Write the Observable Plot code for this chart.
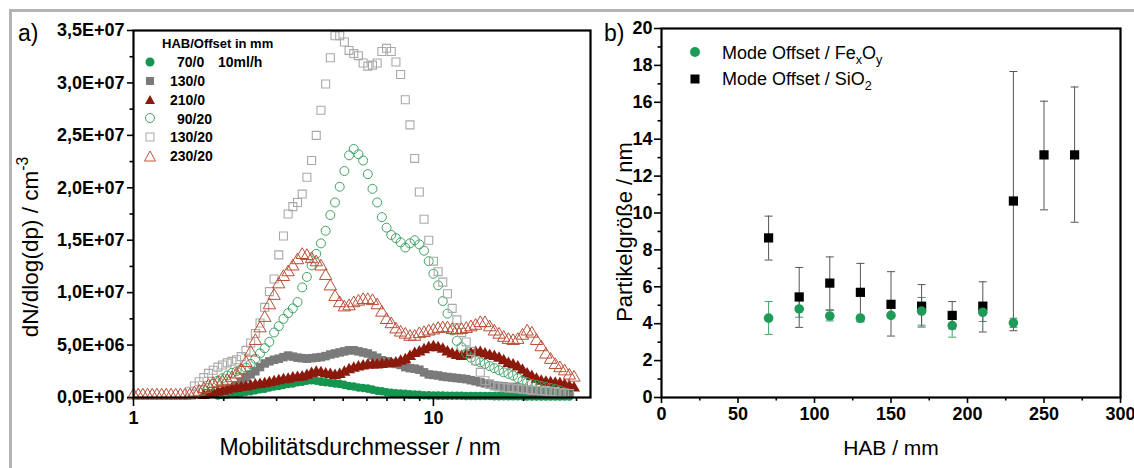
<!DOCTYPE html>
<html><head><meta charset="utf-8">
<script src="https://cdn.jsdelivr.net/npm/d3@7"></script>
<script src="https://cdn.jsdelivr.net/npm/@observablehq/plot@0.6"></script>
<style>
body{margin:0;background:#fff;font-family:"Liberation Sans",Arial,sans-serif;}
#fig{position:relative;width:1134px;height:468px;overflow:hidden;background:#fff;}
.frame{position:absolute;left:9px;top:9px;width:1200px;height:600px;border-top:3px solid #b3b3b3;border-left:3px solid #b3b3b3;}
.t{position:absolute;white-space:nowrap;line-height:1;color:#000;}
.c{transform:translate(-50%,-50%);}
.r{transform:translate(-50%,-50%) rotate(-90deg);}
.lg{position:absolute;white-space:nowrap;line-height:1;font-weight:bold;font-size:14px;transform:translateY(-50%);}
.lb{position:absolute;white-space:nowrap;line-height:1;font-size:18px;transform:translateY(-50%);}
sub,sup{font-size:70%;line-height:0;}
#pa,#pb{position:absolute;top:0;}
</style></head>
<body>
<div id="fig">
  <div class="frame"></div>
  <div id="pa" style="left:0"></div>
  <div id="pb" style="left:590px"></div>
  <div class="t" style="left:18px;top:22px;font-size:23px;">a)</div>
  <div class="t" style="left:604px;top:22px;font-size:23px;">b)</div>
  <div class="t c" style="left:360px;top:447px;font-size:23px;">Mobilitätsdurchmesser / nm</div>
  <div class="t c" style="left:891px;top:447px;font-size:21px;">HAB / mm</div>
  <div class="t r" style="left:31px;top:247px;font-size:22.5px;">dN/dlog(dp) / cm<sup style="vertical-align:0.6em">-3</sup></div>
  <div class="t r" style="left:625px;top:232px;font-size:22px;">Partikelgröße / nm</div>
  <div class="lg" style="left:162px;top:43px;font-size:13px;">HAB/Offset in mm</div>
  <div class="lg" style="left:177px;top:62px;">70/0</div>
  <div class="lg" style="left:218px;top:62px;">10ml/h</div>
  <div class="lg" style="left:170px;top:81px;">130/0</div>
  <div class="lg" style="left:170px;top:100px;">210/0</div>
  <div class="lg" style="left:177px;top:119px;">90/20</div>
  <div class="lg" style="left:170px;top:137px;">130/20</div>
  <div class="lg" style="left:170px;top:156px;">230/20</div>
  <div class="lb" style="left:722px;top:53px;">Mode Offset / Fe<sub>x</sub>O<sub>y</sub></div>
  <div class="lb" style="left:722px;top:79px;">Mode Offset / SiO<sub>2</sub></div>
  <svg width="1134" height="468" style="position:absolute;left:0;top:0;pointer-events:none">
    <circle cx="150" cy="62" r="4.5" fill="#149650"/>
    <rect x="146" y="77" width="8" height="8" fill="#7a7a7a"/>
    <path d="M150,95 L155,104 L145,104 Z" fill="#8c1a0c"/>
    <circle cx="150" cy="118" r="4.5" fill="none" stroke="#3fa366" stroke-width="1"/>
    <rect x="146" y="133" width="8" height="8" fill="none" stroke="#a9a9a9" stroke-width="1"/>
    <path d="M150,151 L155.5,161 L144.5,161 Z" fill="none" stroke="#c0553a" stroke-width="1"/>
    <circle cx="695" cy="52" r="5" fill="#1d9b57"/>
    <rect x="690.5" y="74.5" width="9" height="9" fill="#000"/>
  </svg>
</div>
<script>
// ---------- Panel a data (values in units of 1E+06 cm^-3) ----------
const diam = [1, 1.0366, 1.0746, 1.1140, 1.1548, 1.1971, 1.2409, 1.2864, 1.3335, 1.3823,
  1.4330, 1.4855, 1.5399, 1.5963, 1.6548, 1.7154, 1.7783, 1.8434, 1.9110, 1.9810,
  2.0535, 2.1287, 2.2067, 2.2875, 2.3714, 2.4583, 2.5483, 2.6416, 2.7384, 2.8387,
  2.9427, 3.0505, 3.1623, 3.2781, 3.3982, 3.5227, 3.6517, 3.7855, 3.9242, 4.0679,
  4.2170, 4.3715, 4.5316, 4.6976, 4.8697, 5.0481, 5.2330, 5.4247, 5.6234, 5.8294,
  6.0430, 6.2643, 6.4938, 6.7317, 6.9783, 7.2339, 7.4989, 7.7736, 8.0584, 8.3536,
  8.6596, 8.9768, 9.3057, 9.6466, 10, 10.366, 10.746, 11.140, 11.548, 11.971,
  12.409, 12.864, 13.335, 13.823, 14.330, 14.855, 15.399, 15.963, 16.548, 17.154,
  17.783, 18.434, 19.110, 19.810, 20.535, 21.287, 22.067, 22.875, 23.714, 24.583,
  25.483, 26.416, 27.384, 28.387, 29.427];
const _ = null;
const s70_0 = [_,_,_,_,_,_,_,_,_,_,
  _,_,_,_,_,_,_,_,0.2,0.25,
  0.3,0.35,0.4,0.45,0.55,0.6,0.7,0.8,0.85,0.95,
  1.05,1.1,1.2,1.3,1.35,1.45,1.5,1.6,1.65,1.6,
  1.5,1.45,1.4,1.35,1.3,1.2,1.1,1.05,0.95,0.9,
  0.85,0.75,0.65,0.6,0.5,0.45,0.4,0.38,0.35,0.3,
  0.28,0.25,0.22,0.2,0.19,0.18,0.18,0.17,0.17,0.16,
  0.16,0.15,0.15,0.15,0.14,0.14,0.14,0.13,0.13,0.13,
  0.12,0.12,0.12,0.12,0.11,0.11,0.11,0.11,0.1,0.1,
  0.1,0.1,0.1,0.1,_];
const s130_0 = [_,_,_,_,_,_,_,_,_,_,
  _,_,_,_,_,_,_,_,_,0.5,
  0.7,0.9,1.15,1.5,1.9,2.2,2.5,2.9,3.25,3.45,
  3.6,3.7,3.85,4.0,3.9,3.8,3.75,3.7,3.75,3.8,
  3.85,3.95,4.1,4.2,4.3,4.4,4.5,4.5,4.4,4.3,
  4.2,4.0,3.8,3.55,3.45,3.3,3.2,3.1,2.9,2.8,
  2.75,2.65,2.4,2.2,2.15,2.1,2.0,1.95,1.9,1.85,
  1.8,1.75,1.65,1.55,1.45,1.35,1.25,1.15,1.1,1.05,
  1.0,1.0,0.95,0.85,0.75,0.68,0.62,0.57,0.52,0.5,
  0.47,0.44,0.41,0.38,_];
const s210_0 = [_,_,_,_,_,_,_,_,_,_,
  _,_,_,_,_,0.2,0.3,0.4,0.5,0.6,
  0.7,0.8,0.85,0.95,1.0,1.1,1.2,1.25,1.3,1.4,
  1.5,1.6,1.7,1.75,1.85,1.9,1.95,2.1,2.3,2.4,
  2.35,2.25,2.2,2.1,2.2,2.4,2.65,2.8,2.9,3.0,
  3.1,3.1,3.1,3.15,3.2,3.25,3.3,3.45,3.6,3.9,
  4.2,4.35,4.55,4.75,4.85,4.75,4.6,4.35,4.15,4.0,
  3.9,4.05,4.2,4.3,4.3,4.15,4.0,3.9,3.75,3.5,
  3.25,3.1,2.9,2.6,2.25,2.0,1.75,1.55,1.45,1.4,
  1.35,1.3,1.2,1.05,0.9];
const s90_20 = [_,_,_,_,_,_,_,_,_,_,
  _,_,_,_,_,0.7,0.9,1.3,1.6,1.85,
  2.1,2.35,2.5,2.7,2.85,3.2,3.7,4.2,4.7,5.3,
  6.2,6.8,7.5,8.05,8.5,9.1,10.5,11.5,12.6,13.7,
  14.7,15.9,17.4,18.6,20.1,21.6,23.1,23.7,23.2,22.6,
  21.3,19.9,18.6,17.2,16.2,15.5,15.2,14.8,14.3,14.7,
  15.0,14.6,14.0,13.0,11.8,10.7,9.2,8.0,6.4,5.4,
  4.8,4.2,3.8,3.5,3.35,3.2,3.0,2.8,2.6,2.4,
  2.25,2.1,1.85,1.6,1.45,1.3,1.2,1.1,1.0,0.9,
  0.8,0.67,0.5,0.3,_];
const s130_20 = [_,_,_,_,_,_,_,_,_,_,
  _,_,0.6,1.1,1.5,1.9,2.3,2.6,2.9,3.1,
  3.3,3.45,3.6,3.9,4.5,5.2,6.1,7.1,8.6,10.1,
  11.3,13.6,15.4,17.5,18.2,18.6,19.4,21.0,22.6,25.0,
  27.4,29.9,32.4,34.5,34.5,33.9,33.1,32.8,32.6,31.9,
  31.6,31.7,31.9,33.0,33.3,33.0,32.0,30.8,28.4,26.0,
  22.8,19.6,17.0,15.0,13.0,12.0,11.0,9.9,8.5,7.4,
  6.2,5.3,4.4,3.5,2.4,1.6,1.3,1.1,1.0,0.95,
  0.92,0.88,0.85,0.8,0.75,0.7,0.67,0.64,0.6,0.57,
  0.52,0.48,0.42,0.38,_];
const s230_20 = [0.2,0.2,0.2,0.2,0.2,0.2,0.2,0.2,0.2,0.2,
  0.2,0.2,0.2,0.4,0.55,0.8,1.1,1.3,1.4,1.5,
  1.6,1.85,2.2,2.6,3.3,4.3,5.4,6.6,7.6,8.8,
  9.7,10.8,11.5,11.95,12.5,13.1,13.6,13.5,13.2,12.9,
  12.5,11.6,10.6,9.6,9.0,8.6,8.7,9.0,9.15,9.3,
  9.3,9.2,8.8,8.1,7.4,7.0,6.5,6.2,6.0,5.8,
  5.8,6.05,6.15,6.3,6.4,6.55,6.6,6.6,6.45,6.4,
  6.45,6.55,6.7,6.85,7.1,7.1,6.7,6.3,6.0,5.7,
  5.5,5.4,5.5,5.9,6.3,6.1,5.4,4.8,4.1,3.6,
  3.1,2.8,2.5,2.1,1.9];
const yTicksA = [0, 5, 10, 15, 20, 25, 30, 35];
const yMinorA = [2.5, 7.5, 12.5, 17.5, 22.5, 27.5, 32.5];
const xTicksA = [1, 10];
const xMinorA = [2, 3, 4, 5, 6, 7, 8, 9, 20, 30];

// ---------- Panel b data ----------
const hab = [70, 90, 110, 130, 150, 170, 190, 210, 230, 250, 270];
const sio2 = [8.65, 5.45, 6.2, 5.7, 5.05, 4.95, 4.45, 4.95, 10.65, 13.15, 13.15];
const sio2Lo = [7.45, 3.8, 4.75, 4.1, 3.33, 3.82, 3.72, 3.55, 3.62, 10.17, 9.5];
const sio2Hi = [9.83, 7.05, 7.62, 7.27, 6.82, 6.12, 5.2, 6.27, 17.67, 16.06, 16.83];
const habFe = [70, 90, 110, 130, 150, 170, 190, 210, 230];
const fe = [4.3, 4.8, 4.42, 4.3, 4.45, 4.68, 3.9, 4.62, 4.05];
const feLo = [3.42, 4.35, 4.15, 4.15, 4.35, 3.92, 3.27, 4.12, 3.8];
const feHi = [5.2, 5.25, 4.72, 4.45, 4.55, 5.42, 4.5, 5.1, 4.3];
const yTicksB = [0, 2, 4, 6, 8, 10, 12, 14, 16, 18, 20];
const yMinorB = [1, 3, 5, 7, 9, 11, 13, 15, 17, 19];
const xTicksB = [0, 50, 100, 150, 200, 250, 300];
const xMinorB = [25, 75, 125, 175, 225, 275];

// ---------- build ----------
const toRows = arr => diam.map((d, i) => ({d, v: arr[i]})).filter(r => r.v != null);
const fmtE = d => d === 0 ? "0,0E+00" : (d < 10 ? d.toFixed(1) + "E+06" : (d / 10).toFixed(1) + "E+07").replace(".", ",");
const svgStyle = {fontFamily: "'Liberation Sans', Arial, sans-serif", fontSize: "18px", fontWeight: "bold", background: "transparent", overflow: "visible", color: "#000"};
const blank = () => "";

const pa = Plot.plot({
  width: 600, height: 468,
  marginLeft: 133, marginRight: 10, marginTop: 30, marginBottom: 71,
  style: svgStyle,
  x: {type: "log", domain: [1, 33.4]},
  y: {domain: [0, 35]},
  marks: [
    Plot.dot(toRows(s70_0), {x: "d", y: "v", symbol: "circle", r: 4.3, fill: "#149650"}),
    Plot.dot(toRows(s130_0), {x: "d", y: "v", symbol: "square", r: 4.8, fill: "#7a7a7a"}),
    Plot.dot(toRows(s210_0), {x: "d", y: "v", symbol: "triangle", r: 4.5, fill: "#8c1a0c"}),
    Plot.dot(toRows(s90_20), {x: "d", y: "v", symbol: "circle", r: 4.5, fill: "none", stroke: "#3fa366", strokeWidth: 1}),
    Plot.dot(toRows(s130_20), {x: "d", y: "v", symbol: "square", r: 4.5, fill: "none", stroke: "#a9a9a9", strokeWidth: 1.1}),
    Plot.dot(toRows(s230_20), {x: "d", y: "v", symbol: "triangle", r: 4.6, fill: "none", stroke: "#b94e35", strokeWidth: 1}),
    Plot.axisY({ticks: yTicksA, tickFormat: fmtE, tickSize: 6, tickPadding: 3, strokeWidth: 1.6, label: null}),
    Plot.axisY({ticks: yMinorA, tickFormat: blank, tickSize: 3.5, strokeWidth: 1.6, label: null}),
    Plot.axisX({ticks: xTicksA, tickFormat: d => String(d), tickSize: 9, tickPadding: 5, strokeWidth: 1.6, label: null}),
    Plot.axisX({ticks: xMinorA, tickFormat: blank, tickSize: 4, strokeWidth: 1.6, label: null}),
    Plot.frame({stroke: "#000", strokeWidth: 2.2})
  ]
});
document.getElementById("pa").append(pa);

const capSym = {draw(ctx, size) { const w = Math.sqrt(size / Math.PI); ctx.moveTo(-w, 0); ctx.lineTo(w, 0); }};
const sioRows = hab.map((x, i) => ({x, y: sio2[i], lo: sio2Lo[i], hi: sio2Hi[i]}));
const feRows = habFe.map((x, i) => ({x, y: fe[i], lo: feLo[i], hi: feHi[i]}));
const caps = rows => rows.flatMap(r => [{x: r.x, y: r.lo}, {x: r.x, y: r.hi}]);

const pb = Plot.plot({
  width: 544, height: 468,
  marginLeft: 71, marginRight: 14, marginTop: 28, marginBottom: 71,
  style: svgStyle,
  x: {domain: [0, 300]},
  y: {domain: [0, 20]},
  marks: [
    Plot.ruleX(feRows, {x: "x", y1: "lo", y2: "hi", stroke: "#3fa366", strokeWidth: 1}),
    Plot.dot(caps(feRows), {x: "x", y: "y", symbol: capSym, r: 4, stroke: "#3fa366", strokeWidth: 1}),
    Plot.ruleX(sioRows, {x: "x", y1: "lo", y2: "hi", stroke: "#555", strokeWidth: 1}),
    Plot.dot(caps(sioRows), {x: "x", y: "y", symbol: capSym, r: 4, stroke: "#555", strokeWidth: 1}),
    Plot.dot(sioRows, {x: "x", y: "y", symbol: "square", r: 5.2, fill: "#000"}),
    Plot.dot(feRows, {x: "x", y: "y", symbol: "circle", r: 4.8, fill: "#1d9b57"}),
    Plot.axisY({ticks: yTicksB, tickFormat: d => String(d), tickSize: 7, tickPadding: 2, strokeWidth: 1.6, label: null}),
    Plot.axisY({ticks: yMinorB, tickFormat: blank, tickSize: 3.5, strokeWidth: 1.6, label: null}),
    Plot.axisX({ticks: xTicksB, tickFormat: d => String(d), tickSize: 6, tickPadding: 4, strokeWidth: 1.6, label: null}),
    Plot.axisX({ticks: xMinorB, tickFormat: blank, tickSize: 3.5, strokeWidth: 1.6, label: null}),
    Plot.frame({stroke: "#000", strokeWidth: 2.2})
  ]
});
document.getElementById("pb").append(pb);
</script>
</body></html>
